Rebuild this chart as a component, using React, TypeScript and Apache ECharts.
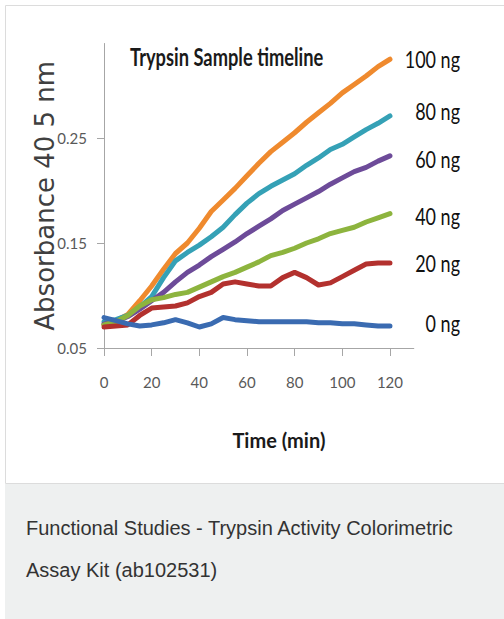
import React, { useEffect, useRef } from "react";
import * as echarts from "echarts";

// ---- data ----
const times = [0, 5, 10, 15, 20, 25, 30, 35, 40, 45, 50, 55, 60, 65, 70, 75, 80, 85, 90, 95, 100, 105, 110, 115, 120];
const seriesNames = ["100 ng", "80 ng", "60 ng", "40 ng", "20 ng", "0 ng"];
const ng100 = [0.072, 0.076, 0.082, 0.095, 0.109, 0.125, 0.14, 0.15, 0.164, 0.18, 0.191, 0.202, 0.214, 0.226, 0.237, 0.246, 0.255, 0.265, 0.274, 0.283, 0.293, 0.301, 0.309, 0.318, 0.325];
const ng80 = [0.075, 0.077, 0.081, 0.089, 0.099, 0.117, 0.133, 0.141, 0.148, 0.156, 0.165, 0.177, 0.188, 0.197, 0.204, 0.21, 0.216, 0.224, 0.231, 0.239, 0.244, 0.251, 0.258, 0.264, 0.271];
const ng60 = [0.073, 0.075, 0.08, 0.087, 0.095, 0.103, 0.113, 0.122, 0.129, 0.137, 0.144, 0.151, 0.159, 0.166, 0.173, 0.181, 0.187, 0.193, 0.199, 0.206, 0.212, 0.218, 0.222, 0.228, 0.233];
const ng40 = [0.072, 0.075, 0.081, 0.09, 0.096, 0.098, 0.101, 0.103, 0.108, 0.113, 0.118, 0.122, 0.127, 0.132, 0.138, 0.141, 0.145, 0.15, 0.154, 0.159, 0.162, 0.165, 0.17, 0.174, 0.178];
const ng20 = [0.07, 0.071, 0.072, 0.081, 0.088, 0.089, 0.09, 0.093, 0.099, 0.103, 0.111, 0.113, 0.111, 0.109, 0.109, 0.117, 0.122, 0.117, 0.11, 0.112, 0.118, 0.124, 0.13, 0.131, 0.131];
const ng0 = [0.079, 0.076, 0.073, 0.071, 0.072, 0.074, 0.077, 0.074, 0.07, 0.073, 0.079, 0.077, 0.076, 0.075, 0.075, 0.075, 0.075, 0.075, 0.074, 0.074, 0.073, 0.073, 0.072, 0.071, 0.071];
const seriesValues = [ng100, ng80, ng60, ng40, ng20, ng0];
const seriesColors = ["#ef8a2e", "#35a1b6", "#6d4b99", "#8db43e", "#b3312e", "#3a6bb1"];
const xTicks = [0, 20, 40, 60, 80, 100, 120];
const yTicks = [0.05, 0.15, 0.25];
const chartTitle = "Trypsin Sample timeline";
const xTitle = "Time (min)";
const yTitle = "Absorbance 40 5 nm";
const captionLines = ["Functional Studies - Trypsin Activity Colorimetric", "Assay Kit (ab102531)"];
// label layout (annotation positions, px)
const labelY = [58, 110, 158, 215, 262, 322];

export default function App() {
  const ref = useRef<HTMLDivElement>(null);
  useEffect(() => {
    document.body.style.margin = "0";
    const chart = echarts.init(ref.current!, null, { renderer: "svg" });
    const series = seriesNames.map((name, i) => ({
      name,
      type: "line",
      showSymbol: false,
      symbol: "none",
      data: times.map((t, j) => [t, seriesValues[i][j]]),
      lineStyle: { width: 5, color: seriesColors[i], cap: "round", join: "round" },
      itemStyle: { color: seriesColors[i] },
      z: 2 + i,
    }));
    const ngLabels = seriesNames.map((name, i) => ({
      type: "text",
      x: 460,
      y: labelY[i],
      scaleY: 1.3,
      style: {
        text: name,
        fill: "#111",
        fontFamily: "Lato",
        fontSize: 18,
        align: "right",
        verticalAlign: "middle",
        textAlign: "right",
        textVerticalAlign: "middle",
      },
    }));
    chart.setOption({
      animation: false,
      grid: { left: 104, right: 90.2, top: 43.5, bottom: 271 },
      xAxis: {
        type: "value",
        min: 0,
        max: 130,
        name: xTitle,
        nameLocation: "middle",
        nameGap: 82,
        nameMoveOverlap: false,
        nameTextStyle: {
          fontFamily: "Lato",
          fontWeight: "bold",
          fontSize: 20,
          color: "#1a1a1a",
          padding: [0, 0, 0, 40],
        },
        axisLine: { lineStyle: { color: "#a6a6a6", width: 1 } },
        axisTick: { show: true, length: 8, lineStyle: { color: "#a6a6a6" }, customValues: xTicks },
        axisLabel: {
          customValues: xTicks,
          margin: 26,
          fontFamily: "Lato",
          fontSize: 15,
          color: "#595959",
        },
        splitLine: { show: false },
      },
      yAxis: {
        type: "value",
        min: 0.05,
        max: 0.34,
        name: yTitle,
        nameLocation: "middle",
        nameGap: 46,
        nameMoveOverlap: false,
        nameTextStyle: {
          fontFamily: "DejaVu Sans",
          fontSize: 26,
          color: "#404040",
        },
        axisLine: { show: true, lineStyle: { color: "#a6a6a6", width: 1 } },
        axisTick: { show: true, length: 7, lineStyle: { color: "#a6a6a6" }, customValues: yTicks },
        axisLabel: {
          customValues: yTicks,
          margin: 17,
          fontFamily: "Lato",
          fontSize: 15,
          color: "#595959",
          formatter: (v: number) => v.toFixed(2),
        },
        splitLine: { show: false },
      },
      graphic: [
        {
          type: "rect",
          z: -10,
          shape: { x: 5.5, y: 5.5, width: 530, height: 478 },
          style: { fill: "none", stroke: "#dcdcdc", lineWidth: 1 },
          silent: true,
        },
        {
          type: "rect",
          z: -10,
          shape: { x: 5, y: 484, width: 520, height: 140 },
          style: { fill: "#eef0f0" },
          silent: true,
        },
        {
          type: "text",
          x: 130,
          y: 57,
          scaleY: 1.3,
          style: {
            text: chartTitle,
            fill: "#1a1a1a",
            fontFamily: "Lato",
            fontWeight: "bold",
            fontSize: 18.3,
            align: "left",
            verticalAlign: "middle",
            textAlign: "left",
            textVerticalAlign: "middle",
          },
        },
        ...ngLabels,
        ...captionLines.map((line, i) => ({
          type: "text",
          x: 26,
          y: 528 + i * 42,
          style: {
            text: line,
            fill: "#333",
            fontFamily: "Liberation Sans",
            fontSize: 20,
            align: "left",
            verticalAlign: "middle",
            textAlign: "left",
            textVerticalAlign: "middle",
          },
        })),
      ],
      series,
    });
    return () => chart.dispose();
  }, []);
  return <div ref={ref} style={{ width: 504, height: 619 }} />;
}
